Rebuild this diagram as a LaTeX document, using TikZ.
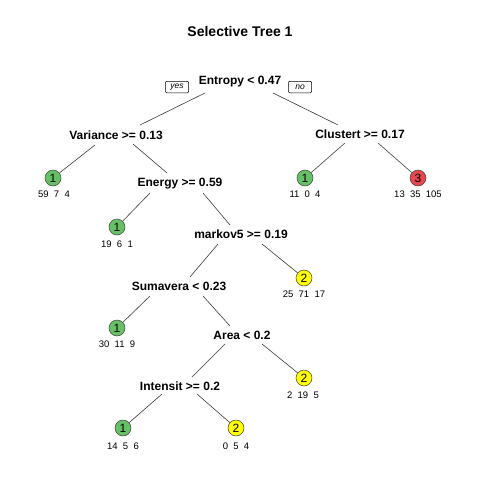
\documentclass[tikz,border=0pt]{standalone}
\usepackage{fontspec}
\setmainfont{Liberation Sans}
\definecolor{leafgreen}{RGB}{102,192,102}
\definecolor{leafred}{RGB}{230,70,76}
\definecolor{leafyellow}{RGB}{255,255,0}
\definecolor{edgegray}{RGB}{60,60,60}
\begin{document}
\begin{tikzpicture}[x=1pt,y=-1pt,
  split/.style={font=\fontsize{12}{14}\selectfont\bfseries, inner sep=0pt},
  leaf/.style={circle, draw=black!75, line width=0.5pt, minimum size=16pt, inner sep=0pt, font=\fontsize{12}{14}\selectfont},
  cnt/.style={font=\fontsize{9.5}{11}\selectfont, inner sep=0pt},
  tag/.style={draw=black, line width=0.5pt, rounded corners=1pt, fill=white, font=\fontsize{8.5}{10}\selectfont\itshape, inner sep=0pt, minimum width=23pt, minimum height=11.5pt},
  edge/.style={draw=edgegray, line width=0.6pt}]
\useasboundingbox[fill=white] (0,0) rectangle (480,480);
\node[font=\fontsize{14}{16}\selectfont\bfseries] (title) at (240,31) {Selective Tree 1};
% split nodes
\node[split] (ent) at (240,82) {Entropy < 0.47};
\node[tag] (yes) at (177,87) {yes};
\node[tag] (no) at (300,87) {no};
\node[split] (var) at (116,135) {Variance >= 0.13};
\node[split] (clu) at (360,134) {Clustert >= 0.17};
\node[split] (ene) at (180,184) {Energy >= 0.59};
\node[split] (mar) at (241,234) {markov5 >= 0.19};
\node[split] (sum) at (179,286) {Sumavera < 0.23};
\node[split] (are) at (242,335) {Area < 0.2};
\node[split] (int) at (180,386) {Intensit >= 0.2};
% leaves
\node[leaf, fill=leafgreen] (l1) at (53,178) {1};
\node[cnt] (c1) at (54,194) {59~~7~~4};
\node[leaf, fill=leafgreen] (l2) at (305,178) {1};
\node[cnt] (c2) at (305,194) {11~~0~~4};
\node[leaf, fill=leafred] (l3) at (418,178) {3};
\node[cnt] (c3) at (418,194) {13~~35~~105};
\node[leaf, fill=leafgreen] (l4) at (117,227) {1};
\node[cnt] (c4) at (117,244) {19~~6~~1};
\node[leaf, fill=leafyellow] (l5) at (304,278) {2};
\node[cnt] (c5) at (304,294) {25~~71~~17};
\node[leaf, fill=leafgreen] (l6) at (117,328) {1};
\node[cnt] (c6) at (117,344) {30~~11~~9};
\node[leaf, fill=leafyellow] (l7) at (304,378) {2};
\node[cnt] (c7) at (303,395) {2~~19~~5};
\node[leaf, fill=leafgreen] (l8) at (123,428) {1};
\node[cnt] (c8) at (123,446) {14~~5~~6};
\node[leaf, fill=leafyellow] (l9) at (236,428) {2};
\node[cnt] (c9) at (236,446) {0~~5~~4};
% edges
\draw[edge] ([shift={(-35,11)}]ent.center) -- ([shift={(24,-10)}]var.center);
\draw[edge] ([shift={(33,11)}]ent.center) -- ([shift={(-22,-9)}]clu.center);
\draw[edge] ([shift={(-21,10)}]var.center) -- (l1);
\draw[edge] ([shift={(17,9)}]var.center) -- ([shift={(-13,-11)}]ene.center);
\draw[edge] ([shift={(-15,9)}]clu.center) -- (l2);
\draw[edge] ([shift={(18,9)}]clu.center) -- (l3);
\draw[edge] ([shift={(-30,9)}]ene.center) -- (l4);
\draw[edge] ([shift={(23,9)}]ene.center) -- ([shift={(-11,-9)}]mar.center);
\draw[edge] ([shift={(-23,10)}]mar.center) -- ([shift={(11,-9)}]sum.center);
\draw[edge] ([shift={(21,10)}]mar.center) -- (l5);
\draw[edge] ([shift={(-29,10)}]sum.center) -- (l6);
\draw[edge] ([shift={(24,10)}]sum.center) -- ([shift={(-12,-9)}]are.center);
\draw[edge] ([shift={(-17,9)}]are.center) -- ([shift={(12,-9)}]int.center);
\draw[edge] ([shift={(20,9)}]are.center) -- (l7);
\draw[edge] ([shift={(-18,8)}]int.center) -- (l8);
\draw[edge] ([shift={(17,8)}]int.center) -- (l9);
\end{tikzpicture}
\end{document}
